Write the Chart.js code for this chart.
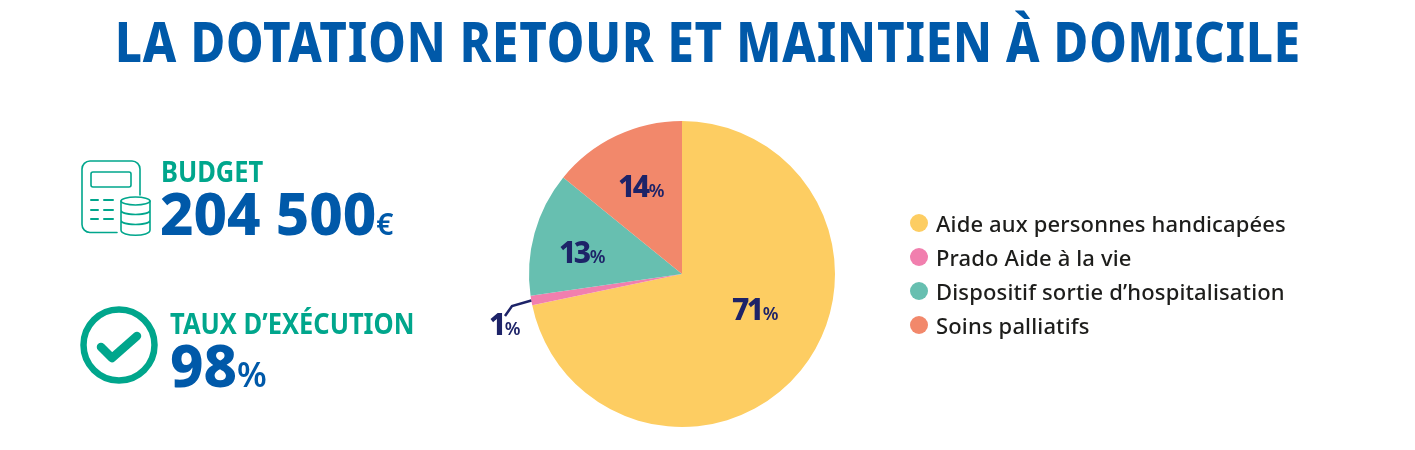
<!DOCTYPE html>
<html lang="fr">
<head>
<meta charset="utf-8">
<title>La dotation retour et maintien à domicile</title>
<script src="https://cdn.jsdelivr.net/npm/chart.js@4"></script>
<style>
  html, body { margin: 0; padding: 0; background: #fff; }
  body { width: 1415px; height: 450px; position: relative; overflow: hidden; font-family: "Noto Sans", sans-serif; }
  #pie { position: absolute; left: 0; top: 0; }
  .txt { position: absolute; white-space: nowrap; line-height: 1; transform-origin: left top; }
  #title { left: 115px; top: 13px; font-size: 55px; font-weight: 800; color: #0059a9; letter-spacing: 1px; transform: scaleX(.861); }
  .kpi-label { font-size: 28px; font-weight: 700; color: #00a68c; transform: scaleX(.91); }
  .kpi-value { font-weight: 800; color: #0059a9; }
  .kpi-value small { font-weight: 600; }
  #legend { position: absolute; left: 910px; top: 206px; margin: 0; padding: 0; list-style: none; }
  #legend li { height: 34px; line-height: 34px; font-size: 22px; font-weight: 500; color: #1d1d1b; white-space: nowrap; position: relative; padding-left: 26px; letter-spacing: .15px; }
  #legend i { position: absolute; left: 0; top: 8px; width: 18px; height: 18px; border-radius: 50%; }
  svg { position: absolute; left: 0; top: 0; }
</style>
</head>
<body>
<canvas id="pie" width="1415" height="450"></canvas>

<svg width="1415" height="450" fill="none" stroke="#00a68c">
  <!-- calculator + coins icon -->
  <g stroke-width="1.6" stroke-linecap="round">
    <path d="M117 232.5H90a8 8 0 0 1-8-8V169a8 8 0 0 1 8-8h42a8 8 0 0 1 8 8v26"/>
    <rect x="91" y="172" width="40" height="15" rx="2"/>
    <path d="M91 200h7M104 200h9M91 210h7M104 210h9M91 219h7M104 219h9" stroke-width="2"/>
    <ellipse cx="135.5" cy="201" rx="14.5" ry="4"/>
    <path d="M121 201v29c0 7 29 7 29 0v-29M121 210c0 6 29 6 29 0M121 220c0 6 29 6 29 0"/>
  </g>
  <!-- check icon -->
  <circle cx="119" cy="345" r="35.5" stroke-width="6.5"/>
  <path d="M101 347l11 11 25-22" stroke-width="8.5" stroke-linecap="round" stroke-linejoin="round"/>
</svg>

<div id="title" class="txt">LA DOTATION RETOUR ET MAINTIEN À DOMICILE</div>

<div class="txt kpi-label" style="left:161px;top:157px">BUDGET</div>
<div class="txt kpi-value" style="left:160px;top:184px;font-size:58px">204 500<small style="font-size:30px">€</small></div>

<div class="txt kpi-label" style="left:170px;top:309px">TAUX D’EXÉCUTION</div>
<div class="txt kpi-value" style="left:170px;top:336px;font-size:58px">98<small style="font-size:34px">%</small></div>

<ul id="legend"></ul>

<script>
const categories = ["Aide aux personnes handicapées", "Prado Aide à la vie", "Dispositif sortie d’hospitalisation", "Soins palliatifs"];
const shares = [71, 1, 13, 14];
const colors = ["#fdcd62", "#f17fae", "#67bfb0", "#f2886b"];

// hand placed labels in the source, offsets are from the pie center
const labelOffsets = [[50, 35], [-193, 50], [-123, -22], [-64, -88]];
const navy = "#1d2368";

const legend = document.getElementById("legend");
categories.forEach((name, i) => {
  const li = document.createElement("li");
  li.innerHTML = `<i style="background:${colors[i]}"></i>${name}`;
  legend.appendChild(li);
});

const sliceLabels = {
  id: "sliceLabels",
  afterDatasetsDraw(chart) {
    const { ctx } = chart;
    const arcs = chart.getDatasetMeta(0).data;
    const cx = arcs[0].x;
    const cy = arcs[0].y;

    // leader line for the small pink slice
    const pink = arcs[1];
    const mid = (pink.startAngle + pink.endAngle) / 2;
    ctx.save();
    ctx.strokeStyle = navy;
    ctx.lineWidth = 2.5;
    ctx.beginPath();
    ctx.moveTo(cx + Math.cos(mid) * pink.outerRadius, cy + Math.sin(mid) * pink.outerRadius);
    ctx.lineTo(cx - 170, cy + 32);
    ctx.lineTo(cx - 177, cy + 42);
    ctx.stroke();

    ctx.fillStyle = navy;
    ctx.textBaseline = "alphabetic";
    shares.forEach((v, i) => {
      const x = cx + labelOffsets[i][0];
      const y = cy + labelOffsets[i][1] + 11;
      ctx.font = "800 30px 'Noto Sans'";
      ctx.letterSpacing = "-2.5px";
      const num = String(v);
      ctx.fillText(num, x, y);
      const w = ctx.measureText(num).width;
      ctx.font = "600 18px 'Noto Sans'";
      ctx.letterSpacing = "-.5px";
      ctx.fillText("%", x + w + 1, y);
    });
    ctx.restore();
  }
};

new Chart(document.getElementById("pie"), {
  type: "pie",
  data: {
    labels: categories,
    datasets: [{ data: shares, backgroundColor: colors, borderWidth: 0 }]
  },
  options: {
    responsive: false,
    animation: false,
    layout: { padding: { left: 529, right: 580, top: 121, bottom: 23 } },
    plugins: {
      legend: { display: false },
      tooltip: { enabled: false }
    }
  },
  plugins: [sliceLabels]
});
</script>
</body>
</html>
